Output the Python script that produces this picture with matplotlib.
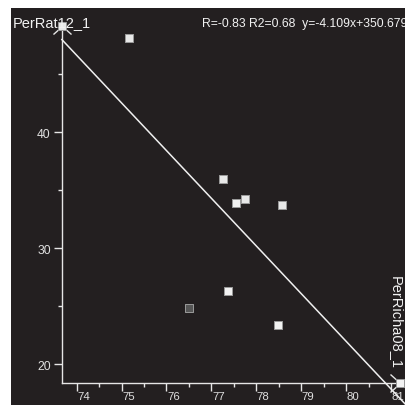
import matplotlib
matplotlib.use("Agg")
import matplotlib.pyplot as plt
import numpy as np
from matplotlib.path import Path
from matplotlib.transforms import ScaledTranslation

plt.rcParams["font.family"] = ["Liberation Sans", "DejaVu Sans"]

# Scatter data
per_richa08 = [73.67, 75.16, 77.26, 77.55, 77.75, 78.57, 77.38, 76.50, 78.48, 81.20]
per_rat12 = [49.14, 48.12, 35.92, 33.91, 34.22, 33.68, 26.32, 24.85, 23.39, 18.36]
point_colors = ["#e8e8e8", "#e8e8e8", "#e8e8e8", "#f2f2f2", "#e8e8e8",
                "#e8e8e8", "#f2f2f2", "#555555", "#f2f2f2", "#f2f2f2"]

# Regression fit
slope = -4.109
intercept = 350.679
stats_text = "R=-0.83 R2=0.68  y=-4.109x+350.679"
x_label = "PerRicha08_1"
y_label = "PerRat12_1"

BG = "#231f20"
FG = "#e6e6e6"
W = H = 406
dpi = 100

fig = plt.figure(figsize=(W / dpi, H / dpi), dpi=dpi, facecolor="white")
ax = fig.add_axes([11 / W, 0, (W - 11) / W, (H - 9) / H])
ax.set_facecolor(BG)

ax.set_xlim(72.537, 81.334)
ax.set_ylim(16.466, 50.69)

xmin, xmax = min(per_richa08), max(per_richa08)
ymin, ymax = min(per_rat12), max(per_rat12)

for s in ("top", "right"):
    ax.spines[s].set_visible(False)
ax.spines["left"].set_position(("data", xmin))
ax.spines["bottom"].set_position(("data", ymin))
ax.spines["left"].set_bounds(ymin, ymax)
ax.spines["bottom"].set_bounds(xmin, xmax)
for s in ("left", "bottom"):
    ax.spines[s].set_color(FG)
    ax.spines[s].set_linewidth(1.0)

ax.set_xticks([t for t in range(74, 82)])
ax.set_xticks([t + 0.5 for t in range(74, 81)], minor=True)
ax.set_yticks([20, 30, 40])
ax.set_yticks([25, 35, 45], minor=True)

ax.tick_params(which="major", length=6, width=1.0, color=FG, labelcolor="#e0e0e0",
               labelsize=8.7)
ax.tick_params(which="minor", length=3, width=1.0, color=FG)
ax.tick_params(axis="x", which="major", pad=0, labelsize=8.2)
ax.tick_params(axis="y", which="major", pad=2)

# x tick labels sit a little to the right of their ticks
offset = ScaledTranslation(7 / dpi, 0, fig.dpi_scale_trans)
for lab in ax.get_xticklabels():
    lab.set_transform(lab.get_transform() + offset)

# regression line
xs = np.array([xmin, ax.get_xlim()[1]])
ax.plot(xs, slope * xs + intercept, color="#f0f0f0", lw=1.1, zorder=3)

# axis arrowheads
up_chevron = Path([(-9, -8), (0, 0), (9, -8)], [Path.MOVETO, Path.LINETO, Path.LINETO])
right_chevron = Path([(-10, 9), (0, 0), (-10, -9)], [Path.MOVETO, Path.LINETO, Path.LINETO])
ax.plot([xmin], [ymax], marker=up_chevron, markersize=13, markerfacecolor="none",
        markeredgecolor=FG, markeredgewidth=1.0, linestyle="none", zorder=4, clip_on=False)
ax.plot([xmax], [ymin], marker=right_chevron, markersize=14.4, markerfacecolor="none",
        markeredgecolor=FG, markeredgewidth=1.0, linestyle="none", zorder=4, clip_on=False)

# points
ax.scatter(per_richa08, per_rat12, marker="s", s=5.8 ** 2, c=point_colors,
           edgecolors="#9a9a9a", linewidths=0.7, zorder=5, clip_on=False)

# labels
fig.text(13 / W, 1 - 27 / H, y_label, color="#f2f2f2", fontsize=10.5, va="baseline", ha="left")
fig.text(202 / W, 1 - 27 / H, stats_text, color="#f2f2f2", fontsize=8.7, va="baseline", ha="left")
fig.text(389 / W, 1 - 276 / H, x_label, color="#f2f2f2", fontsize=10.5, rotation=-90,
         va="top", ha="left")

fig.savefig("out.png", dpi=dpi, facecolor="white")
